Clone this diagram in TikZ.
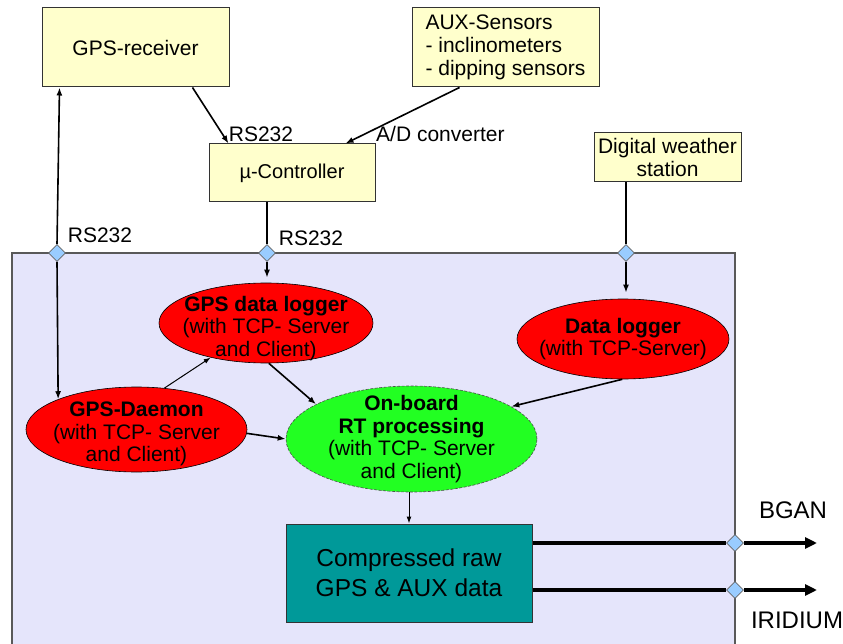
\documentclass[tikz,border=0pt]{standalone}
\usepackage{fontspec}
\setmainfont{Liberation Sans}
\usetikzlibrary{shapes.geometric,arrows.meta}
\definecolor{boxyellow}{RGB}{255,255,204}
\definecolor{bglav}{RGB}{229,229,251}
\definecolor{diablue}{RGB}{153,204,255}
\definecolor{redfill}{RGB}{255,0,0}
\definecolor{greenfill}{RGB}{34,255,34}
\definecolor{tealfill}{RGB}{0,153,153}
\newcommand{\lowtext}[2]{\raisebox{#1}[\height][\depth]{\begin{tabular}{@{}c@{}}#2\end{tabular}}}
\begin{document}
\begin{tikzpicture}[x=1pt,y=-1pt,
  ybox/.style={draw=black!80,fill=boxyellow,line width=1pt,inner sep=2pt,
    font=\fontsize{21}{23}\selectfont,align=center},
  lab/.style={font=\fontsize{21}{23}\selectfont,inner sep=0pt},
  dia/.style={diamond,draw=black!60,fill=diablue,minimum width=17pt,minimum height=17pt,inner sep=0pt,line width=0.6pt},
  ell/.style={ellipse,draw=black,line width=0.6pt,inner xsep=-40pt,inner ysep=-25pt,align=center,
    font=\fontsize{21}{22.5}\selectfont},
  conn/.style={line width=1.6pt,-{Latex[length=8pt,width=6pt]}},
  thinconn/.style={line width=1pt,-{Latex[length=7pt,width=5pt]}},
  plainline/.style={line width=1.6pt},
  outline/.style={line width=4pt},
  outarr/.style={line width=4pt,-{Triangle[length=12pt,width=11pt]}}
]
\useasboundingbox (0,0) rectangle (843,644);
% background panel
\fill[bglav] (12,253) rectangle (735,644);
\draw[black!65,line width=1.2pt] (12,644) -- (12,253) -- (735,253) -- (735,644);

% boxes
\node[ybox,minimum width=187pt,minimum height=79pt] (gpsr) at (135.5,47.5) {GPS-receiver};
\node[ybox,minimum width=187pt,minimum height=79pt,align=left] (aux) at (505.5,47.5)
  {AUX-Sensors\\- inclinometers\\- dipping sensors};
\node[ybox,minimum width=166pt,minimum height=58pt,font=\fontsize{20}{23}\selectfont] (uc) at (292,173) {µ-Controller};
\node[ybox,minimum width=147pt,minimum height=49pt,inner sep=1pt] (ws) at (667.5,157.5) {Digital weather\\station};

% labels
\node[lab] (l1) at (261,134) {RS232};
\node[lab,anchor=west] (l2) at (376,134) {A/D converter};
\node[lab] (l3) at (100,235) {RS232};
\node[lab] (l4) at (311,238) {RS232};
\node[lab,font=\fontsize{24}{26}\selectfont] (l5) at (793,510) {BGAN};
\node[lab,font=\fontsize{24}{26}\selectfont] (l6) at (797,620) {IRIDIUM};

% diamonds
\node[dia] (d1) at (57,253) {};
\node[dia] (d2) at (267,253) {};
\node[dia] (d3) at (626,253) {};
\node[dia] (d4) at (735,543) {};
\node[dia] (d5) at (735,590) {};

% ellipses
\node[ell,fill=redfill,minimum width=214pt,minimum height=80pt] (gdl) at (266,323)
  {\lowtext{-6pt}{\textbf{GPS data logger}\\(with TCP- Server\\and Client)}};
\node[ell,fill=redfill,minimum width=221pt,minimum height=85pt] (dae) at (136.5,429.5)
  {\lowtext{-5pt}{\textbf{GPS-Daemon}\\(with TCP- Server\\and Client)}};
\node[ell,fill=redfill,minimum width=212pt,minimum height=80pt] (dl) at (623,339)
  {\textbf{Data logger}\\(with TCP-Server)};
\node[ell,fill=greenfill,draw=black!70,dash pattern=on 3pt off 1.5pt,minimum width=251pt,minimum height=106pt] (ob) at (411.5,439)
  {\textbf{On-board}\\\textbf{RT processing}\\(with TCP- Server\\and Client)};

% compressed data box
\node[draw=black!80,fill=tealfill,line width=1pt,minimum width=246pt,minimum height=98pt,
  align=center,font=\fontsize{24.5}{30}\selectfont,text=black] (comp) at (409,573)
  {Compressed raw\\GPS \& AUX data};

\coordinate (bganend) at (817,543);
\coordinate (iridend) at (817,590);

% connectors
\draw[conn] (d1.north) -- ([xshift=18pt]gpsr.south west);
\draw[conn] (d1.south) -- (dae.north west);
\draw[conn] ([xshift=57pt]gpsr.south) -- ([xshift=20pt]uc.north west);
\draw[conn] ([xshift=48pt]aux.south west) -- ([xshift=-30pt]uc.north east);
\draw[plainline] (d2.north |- uc.south) -- (d2.north);
\draw[conn,shorten >=5pt] (d2.south) -- (d2.south |- gdl.north);
\draw[plainline] (d3.north |- ws.south) -- (d3.north);
\draw[conn,shorten >=6pt] (d3.south) -- (d3.south |- dl.north);
\draw[thinconn] (dae.56) -- (gdl.212);
\draw[conn] (gdl.-86) -- (ob.160);
\draw[conn] (dae.-2) -- (ob.west);
\draw[conn] (dl.-91) -- (ob.18);
\draw[thinconn] (ob.south -| comp.north) -- (comp.north);
\draw[outline] (comp.east |- d4) -- (d4.west);
\draw[outarr] (d4.east) -- (bganend);
\draw[outline] (comp.east |- d5) -- (d5.west);
\draw[outarr] (d5.east) -- (iridend);
\end{tikzpicture}
\end{document}
